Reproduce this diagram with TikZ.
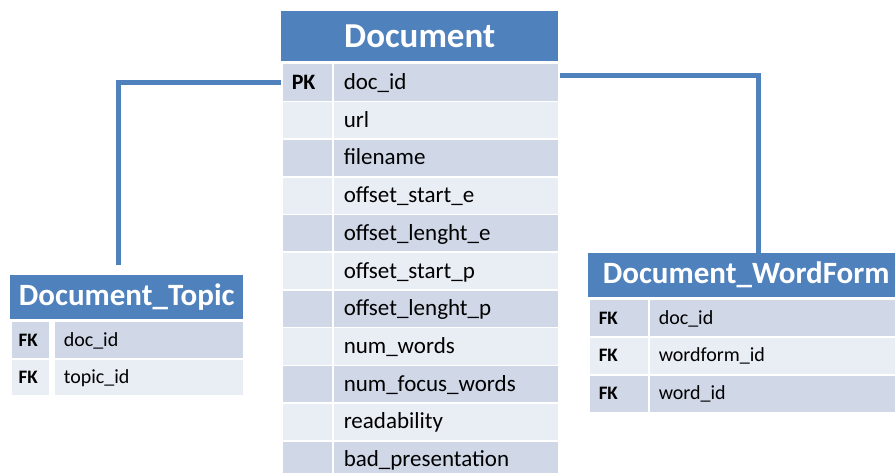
\documentclass[tikz,border=0pt]{standalone}
\usepackage{fontspec}
\setmainfont{Carlito}
\definecolor{HeadBlue}{RGB}{79,129,189}
\definecolor{RowDark}{RGB}{208,216,232}
\definecolor{RowLight}{RGB}{233,237,244}

\begin{document}
\begin{tikzpicture}[x=1pt, y=-1pt,
        head/.style={fill=HeadBlue, text=white, anchor=north west, inner sep=0pt},
        cell/.style={draw=white, line width=1.5pt, anchor=north west, inner xsep=10pt, inner ysep=0pt, align=left},
        link/.style={HeadBlue, line width=5pt}
    ]
        \useasboundingbox (0,0) rectangle (895,473);
        \clip (0,0) rectangle (895,473);

        % Document
        \node[head, minimum width=277pt, minimum height=50pt, font=\fontsize{35}{37}\selectfont\bfseries] (dochead) at (281,11) {Document};
        \foreach \k/\f [count=\i] in {PK/doc\_id, /url, /filename, /offset\_start\_e, /offset\_lenght\_e, /offset\_start\_p, /offset\_lenght\_p, /num\_words, /num\_focus\_words, /readability, /bad\_presentation} {
            \ifodd\i \def\rowfill{RowDark}\else \def\rowfill{RowLight}\fi
            \node[cell, fill=\rowfill, text width=31pt, minimum height=37.7pt, text height=17.5pt, text depth=3.5pt, font=\fontsize{22}{26}\selectfont\bfseries] (dock\i) at (281,{63+37.7*(\i-1)}) {\k};
            \node[cell, fill=\rowfill, text width=204pt, inner xsep=11pt, minimum height=37.7pt, text height=17.5pt, text depth=3.5pt, font=\fontsize{23}{26}\selectfont] (docf\i) at (332,{63+37.7*(\i-1)}) {\f};
        }

        % Document_Topic
        \node[head, minimum width=233pt, minimum height=44pt, font=\fontsize{31}{33}\selectfont\bfseries] (tophead) at (10,275) {Document\_Topic};
        \foreach \k/\f [count=\i] in {FK/doc\_id, FK/topic\_id} {
            \ifodd\i \def\rowfill{RowDark}\else \def\rowfill{RowLight}\fi
            \node[cell, fill=\rowfill, text width=23pt, inner xsep=8pt, minimum height=37pt, text height=15pt, text depth=3pt, font=\fontsize{19}{22}\selectfont\bfseries] (topk\i) at (10,{321+37*(\i-1)}) {\k};
            \node[cell, fill=\rowfill, text width=170pt, minimum height=37pt, text height=15pt, text depth=3pt, font=\fontsize{20}{22}\selectfont] (topf\i) at (53,{321+37*(\i-1)}) {\f};
        }

        % Document_WordForm
        \node[head, minimum width=316pt, minimum height=44pt, font=\fontsize{31}{33}\selectfont\bfseries] (wfhead) at (588,253) {Document\_WordForm};
        \foreach \k/\f [count=\i] in {FK/doc\_id, FK/wordform\_id, FK/word\_id} {
            \ifodd\i \def\rowfill{RowDark}\else \def\rowfill{RowLight}\fi
            \node[cell, fill=\rowfill, text width=40pt, minimum height=37.5pt, text height=15pt, text depth=3pt, font=\fontsize{19}{22}\selectfont\bfseries] (wfk\i) at (588,{299+37.5*(\i-1)}) {\k};
            \node[cell, fill=\rowfill, text width=236pt, minimum height=37.5pt, text height=15pt, text depth=3pt, font=\fontsize{20}{22}\selectfont] (wff\i) at (648,{299+37.5*(\i-1)}) {\f};
        }

        % links
        \coordinate (lend) at (118,265);
        \coordinate (rbend) at (758,76);
        \draw[link] (dock1.west) -| (lend);
        \draw[link] (docf1.east |- rbend) -| (rbend |- wfhead.north);
    \end{tikzpicture}
\end{document}
